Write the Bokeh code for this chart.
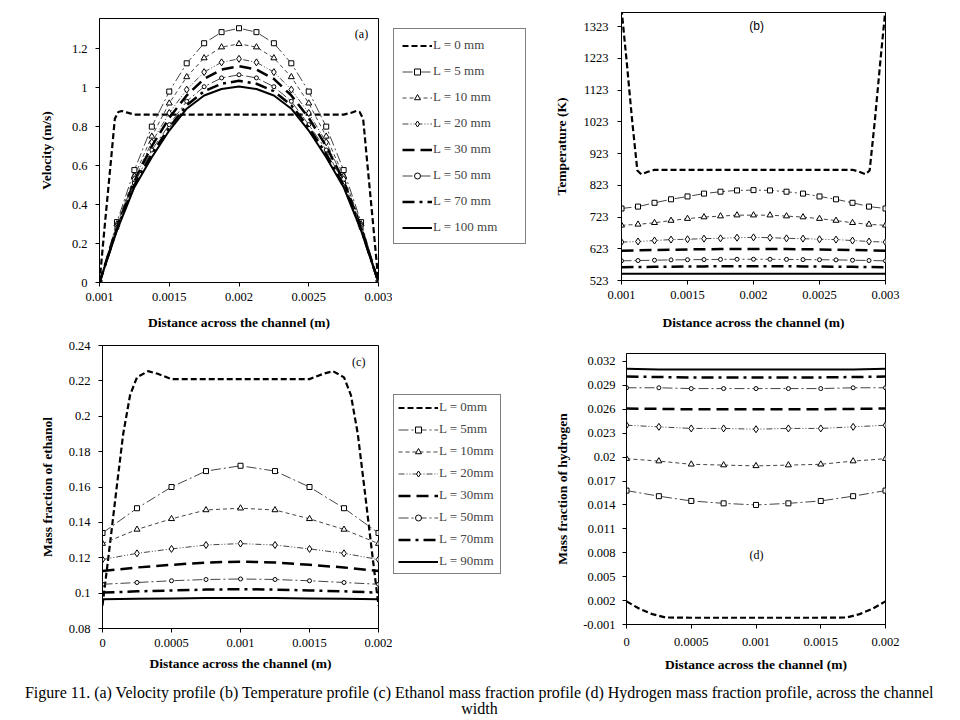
from bokeh.plotting import figure
from bokeh.layouts import column, row
from bokeh.models import Legend, LegendItem, Label, FixedTicker, Range1d
from bokeh.core.properties import value
from bokeh.embed import file_html
from bokeh.resources import INLINE

SERIF = "Liberation Serif"

# ---------------- data : (a) velocity ----------------
a_x = [0.001, 0.001125, 0.00125, 0.001375, 0.0015, 0.001625, 0.00175, 0.001875, 0.002,
       0.002125, 0.00225, 0.002375, 0.0025, 0.002625, 0.00275, 0.002875, 0.003]
a_x0 = [0.001, 0.00104, 0.00108, 0.00111, 0.001135, 0.00116, 0.0012, 0.00125, 0.0015, 0.002,
        0.0025, 0.00275, 0.0028, 0.00284, 0.002865, 0.00289, 0.00292, 0.00296, 0.003]
a_L0 = [0, 0.31, 0.61, 0.84, 0.875, 0.88, 0.872, 0.862, 0.862, 0.862,
        0.862, 0.862, 0.87, 0.88, 0.875, 0.84, 0.61, 0.31, 0]
a_L5 = [0, 0.31, 0.577, 0.80, 0.98, 1.125, 1.228, 1.285, 1.305, 1.285, 1.228, 1.125, 0.98, 0.80, 0.577, 0.31, 0]
a_L10 = [0, 0.30, 0.545, 0.75, 0.92, 1.055, 1.152, 1.208, 1.225, 1.208, 1.152, 1.055, 0.92, 0.75, 0.545, 0.30, 0]
a_L20 = [0, 0.29, 0.53, 0.72, 0.87, 0.99, 1.08, 1.13, 1.148, 1.13, 1.08, 0.99, 0.87, 0.72, 0.53, 0.29, 0]
a_L30 = [0, 0.285, 0.52, 0.70, 0.845, 0.96, 1.045, 1.093, 1.11, 1.093, 1.045, 0.96, 0.845, 0.70, 0.52, 0.285, 0]
a_L50 = [0, 0.28, 0.51, 0.68, 0.81, 0.93, 1.005, 1.05, 1.066, 1.05, 1.005, 0.93, 0.81, 0.68, 0.51, 0.28, 0]
a_L70 = [0, 0.275, 0.50, 0.66, 0.795, 0.91, 0.982, 1.02, 1.035, 1.02, 0.982, 0.91, 0.795, 0.66, 0.50, 0.275, 0]
a_L100 = [0, 0.267, 0.489, 0.643, 0.78, 0.892, 0.96, 0.993, 1.006, 0.993, 0.96, 0.892, 0.78, 0.643, 0.489, 0.267, 0]
a_xticks = [0.001, 0.0015, 0.002, 0.0025, 0.003]
a_xlabels = ["0.001", "0.0015", "0.002", "0.0025", "0.003"]
a_yticks = [0, 0.2, 0.4, 0.6, 0.8, 1.0, 1.2]
a_ylabels = ["0", "0.2", "0.4", "0.6", "0.8", "1", "1.2"]
a_legend = ["L = 0 mm", "L = 5 mm", "L = 10 mm", "L = 20 mm", "L = 30 mm", "L = 50 mm", "L = 70 mm", "L = 100 mm"]

# ---------------- data : (b) temperature ----------------
b_x = a_x
b_x0 = [0.001, 0.00104, 0.00108, 0.00112, 0.00115, 0.0012, 0.00125, 0.0015, 0.002, 0.0025,
        0.00275, 0.0028, 0.00285, 0.00288, 0.00292, 0.00296, 0.003]
b_L0 = [1380, 1210, 1030, 870, 858, 866, 872, 872, 872, 872, 872, 866, 858, 870, 1030, 1210, 1380]
b_L5 = [750, 756, 768, 779, 788, 797, 803, 807, 808, 807, 803, 797, 788, 779, 768, 756, 750]
b_L10 = [697, 700, 705, 712, 718, 723, 726, 729, 729, 729, 726, 723, 718, 712, 705, 700, 697]
b_L20 = [644, 646, 649, 652, 653, 655, 656, 658, 659, 658, 656, 655, 653, 652, 649, 646, 644]
b_L30 = [617, 618, 619, 620, 621, 621.5, 622, 622, 622, 622, 622, 621.5, 621, 620, 619, 618, 617]
b_L50 = [585, 586, 587, 588, 588.5, 589, 589.5, 590, 590, 590, 589.5, 589, 588.5, 588, 587, 586, 585]
b_L70 = [565, 565.5, 566, 566.5, 567, 567.5, 568, 568, 568, 568, 568, 567.5, 567, 566.5, 566, 565.5, 565]
b_L100 = [544, 544, 544, 544, 544.5, 544.5, 544.5, 544.5, 544.5, 544.5, 544.5, 544.5, 544.5, 544, 544, 544, 544]
b_yticks = [523, 623, 723, 823, 923, 1023, 1123, 1223, 1323]
b_ylabels = ["523", "623", "723", "823", "923", "1023", "1123", "1223", "1323"]

# ---------------- data : (c) ethanol ----------------
c_x = [0, 0.00025, 0.0005, 0.00075, 0.001, 0.00125, 0.0015, 0.00175, 0.002]
c_x0 = [0, 0.00005, 0.0001, 0.00015, 0.0002, 0.00025, 0.00033, 0.0004, 0.0005, 0.001, 0.0015,
        0.0016, 0.00167, 0.00175, 0.0018, 0.00185, 0.0019, 0.00195, 0.002]
c_L0 = [0.093, 0.125, 0.158, 0.19, 0.212, 0.222, 0.2255, 0.224, 0.221, 0.221, 0.221,
        0.224, 0.2255, 0.222, 0.212, 0.19, 0.158, 0.125, 0.093]
c_L5 = [0.134, 0.148, 0.160, 0.169, 0.172, 0.169, 0.160, 0.148, 0.134]
c_L10 = [0.128, 0.136, 0.142, 0.147, 0.148, 0.147, 0.142, 0.136, 0.128]
c_L20 = [0.119, 0.1225, 0.125, 0.1272, 0.128, 0.1272, 0.125, 0.1225, 0.119]
c_L30 = [0.1125, 0.1145, 0.116, 0.1173, 0.1178, 0.1173, 0.116, 0.1145, 0.1125]
c_L50 = [0.105, 0.106, 0.107, 0.1077, 0.108, 0.1077, 0.107, 0.106, 0.105]
c_L70 = [0.1003, 0.101, 0.1015, 0.102, 0.1022, 0.102, 0.1015, 0.101, 0.1003]
c_L90 = [0.0965, 0.0968, 0.097, 0.0972, 0.0973, 0.0972, 0.097, 0.0968, 0.0965]
c_xticks = [0, 0.0005, 0.001, 0.0015, 0.002]
c_xlabels = ["0", "0.0005", "0.001", "0.0015", "0.002"]
c_yticks = [0.08, 0.1, 0.12, 0.14, 0.16, 0.18, 0.2, 0.22, 0.24]
c_ylabels = ["0.08", "0.1", "0.12", "0.14", "0.16", "0.18", "0.2", "0.22", "0.24"]
c_legend = ["L = 0mm", "L = 5mm", "L = 10mm", "L = 20mm", "L = 30mm", "L = 50mm", "L = 70mm", "L = 90mm"]

# ---------------- data : (d) hydrogen ----------------
d_x = c_x
d_x0 = [0, 0.0001, 0.0002, 0.0003, 0.0005, 0.001, 0.0015, 0.0017, 0.0018, 0.0019, 0.002]
d_L0 = [0.0019, 0.00097, 0.0003, -0.00012, -0.00015, -0.00015, -0.00015, -0.00012, 0.0003, 0.00097, 0.0019]
d_L5 = [0.0158, 0.0151, 0.0145, 0.0142, 0.0140, 0.0142, 0.0145, 0.0151, 0.0158]
d_L10 = [0.0198, 0.0195, 0.0191, 0.0190, 0.0189, 0.0190, 0.0191, 0.0195, 0.0198]
d_L20 = [0.0240, 0.0238, 0.0236, 0.0236, 0.0235, 0.0236, 0.0236, 0.0238, 0.0240]
d_L30 = [0.0261, 0.02605, 0.0260, 0.0260, 0.0260, 0.0260, 0.0260, 0.02605, 0.0261]
d_L50 = [0.0287, 0.0287, 0.0286, 0.0286, 0.0286, 0.0286, 0.0286, 0.0287, 0.0287]
d_L70 = [0.0301, 0.03005, 0.0300, 0.0300, 0.0300, 0.0300, 0.0300, 0.03005, 0.0301]
d_L90 = [0.0311, 0.0310, 0.0310, 0.0310, 0.0310, 0.0310, 0.0310, 0.0310, 0.0311]
d_yticks = [-0.001, 0.002, 0.005, 0.008, 0.011, 0.014, 0.017, 0.02, 0.023, 0.026, 0.029, 0.032]
d_ylabels = ["-0.001", "0.002", "0.005", "0.008", "0.011", "0.014", "0.017", "0.02", "0.023", "0.026", "0.029", "0.032"]

caption1 = ("Figure 11. (a) Velocity profile (b) Temperature profile (c) Ethanol mass fraction profile "
            "(d) Hydrogen mass fraction profile, across the channel")
caption2 = "width"

# ---------------- styles ----------------
STYLES = [
    dict(dash="6 3", width=2.2, color="black", marker=None, size=0),
    dict(dash="10 3 2 3", width=1, color="#444444", marker="square", size=5),
    dict(dash="4 3", width=1, color="#444444", marker="triangle", size=6),
    dict(dash="6 2 1 2 1 2", width=1, color="#444444", marker="diamond", size=7),
    dict(dash="12 6", width=2.5, color="black", marker=None, size=0),
    dict(dash="10 3 2 3", width=1, color="#444444", marker="circle", size=4),
    dict(dash="12 5 3 5", width=2.5, color="black", marker=None, size=0),
    dict(dash="solid", width=2, color="black", marker=None, size=0),
]

TICK_FS = "12.5px"
TITLE_FS = "13.5px"


def make_fig(w, h, xr, yr, borders, xticks, xlabels, yticks, ylabels, xtitle, ytitle,
             xstand, ystand, xlab_stand=6, ylab_stand=8):
    p = figure(width=w, height=h, x_range=Range1d(*xr), y_range=Range1d(*yr),
               output_backend="svg", toolbar_location=None,
               min_border_left=borders[0], min_border_right=borders[1],
               min_border_top=borders[2], min_border_bottom=borders[3])
    p.xgrid.visible = False
    p.ygrid.visible = False
    p.outline_line_color = "black"
    p.outline_line_width = 1
    p.outline_line_alpha = 1
    p.background_fill_color = "white"
    p.border_fill_color = "white"
    p.xaxis.ticker = FixedTicker(ticks=xticks)
    p.xaxis.major_label_overrides = dict(zip(xticks, xlabels))
    p.yaxis.ticker = FixedTicker(ticks=yticks)
    p.yaxis.major_label_overrides = dict(zip(yticks, ylabels))
    for ax in (p.xaxis[0], p.yaxis[0]):
        ax.minor_tick_line_color = None
        ax.major_tick_in = 0
        ax.major_tick_out = 4
        ax.axis_line_color = "black"
        ax.major_tick_line_color = "black"
        ax.major_label_text_font = SERIF
        ax.major_label_text_font_size = TICK_FS
        ax.major_label_text_color = "black"
        ax.axis_label_text_font = SERIF
        ax.axis_label_text_font_size = TITLE_FS
        ax.axis_label_text_font_style = "bold"
        ax.axis_label_text_color = "black"
    p.xaxis.axis_label = xtitle
    p.yaxis.axis_label = ytitle
    p.xaxis.axis_label_standoff = xstand
    p.yaxis.axis_label_standoff = ystand
    p.xaxis.major_label_standoff = xlab_stand
    p.yaxis.major_label_standoff = ylab_stand
    return p


def draw(p, xs, ys, st):
    rs = [p.line(xs, ys, line_color=st["color"], line_width=st["width"], line_dash=st["dash"])]
    if st["marker"]:
        rs.append(p.scatter(xs, ys, marker=st["marker"], size=st["size"], fill_color="white",
                            line_color="black", line_width=1))
    return rs


def legend_fig(w, h, top, bottom, labels, series, loc, padding, spacing, glyph_w, label_w, item_h):
    # the series are drawn off-range here: only their legend glyphs are seen
    f = figure(width=w, height=h, x_range=Range1d(10, 11), y_range=Range1d(10, 11),
               output_backend="svg", toolbar_location=None, x_axis_location=None,
               y_axis_location=None, min_border_left=0, min_border_right=0,
               min_border_top=top, min_border_bottom=bottom)
    f.xgrid.visible = False
    f.ygrid.visible = False
    f.outline_line_color = None
    f.background_fill_color = "white"
    f.border_fill_color = "white"
    items = []
    for lab, (xs, ys), st in zip(labels, series, STYLES):
        rs = draw(f, xs, ys, st)
        items.append(LegendItem(label=lab, renderers=rs))
    lg = Legend(items=items, location=loc, padding=padding, spacing=spacing, margin=0,
                glyph_width=glyph_w, glyph_height=item_h, label_height=item_h,
                label_width=label_w, label_standoff=1,
                label_text_font=SERIF, label_text_font_size="13px",
                border_line_color="black", border_line_width=1,
                background_fill_color="white", background_fill_alpha=1)
    f.add_layout(lg)
    return f


def panel_label(p, x, y, text, font=SERIF):
    p.add_layout(Label(x=x, y=y, text=text, text_font=font, text_font_size="12px",
                       text_align="center", text_baseline="middle", text_color="black"))


XT = "Distance across the channel (m)"

# (a)
pa = make_fig(392, 338, (0.001, 0.003), (0, 1.355), (99, 14, 18, 56), a_xticks, a_xlabels,
              a_yticks, a_ylabels, XT, "Velocity (m/s)", 11, 15)
a_series = [(a_x0, a_L0), (a_x, a_L5), (a_x, a_L10), (a_x, a_L20), (a_x, a_L30), (a_x, a_L50),
            (a_x, a_L70), (a_x, a_L100)]
for (xs, ys), st in zip(a_series, STYLES):
    draw(pa, xs, ys, st)
panel_label(pa, 0.002878, 1.274, "(a)")
la = legend_fig(148, 338, 18, 56, a_legend, a_series, (1, 38), 8, 10, 30, 84, 15)

# (b)
pb = make_fig(420, 338, (0.001, 0.003), (523, 1368), (81, 75, 12, 58), a_xticks, a_xlabels,
              b_yticks, b_ylabels, XT, "Temperature (K)", 13, 12, 6, 9)
b_series = [(b_x0, b_L0), (b_x, b_L5), (b_x, b_L10), (b_x, b_L20), (b_x, b_L30), (b_x, b_L50),
            (b_x, b_L70), (b_x, b_L100)]
for (xs, ys), st in zip(b_series, STYLES):
    draw(pb, xs, ys, st)
panel_label(pb, 0.002024, 1326, "(b)", "Liberation Sans")

# (c)
pc = make_fig(392, 345, (0, 0.002), (0.08, 0.24), (102, 14, 7, 55), c_xticks, c_xlabels,
              c_yticks, c_ylabels, XT, "Mass fraction of ethanol", 6, 11)
c_series = [(c_x0, c_L0), (c_x, c_L5), (c_x, c_L10), (c_x, c_L20), (c_x, c_L30), (c_x, c_L50),
            (c_x, c_L70), (c_x, c_L90)]
for (xs, ys), st in zip(c_series, STYLES):
    draw(pc, xs, ys, st)
panel_label(pc, 0.001857, 0.2307, "(c)")
lc = legend_fig(148, 345, 7, 55, c_legend, c_series, (1, 54), 4, 6, 40, 57, 15)

# (d)
pd_ = make_fig(420, 345, (0, 0.002), (-0.001, 0.033), (86, 75, 15, 59), c_xticks, c_xlabels,
               d_yticks, d_ylabels, XT, "Mass fraction of hydrogen", 8, 10, 9, 7)
d_series = [(d_x0, d_L0), (d_x, d_L5), (d_x, d_L10), (d_x, d_L20), (d_x, d_L30), (d_x, d_L50),
            (d_x, d_L70), (d_x, d_L90)]
for (xs, ys), st in zip(d_series, STYLES):
    draw(pd_, xs, ys, st)
panel_label(pd_, 0.001003, 0.00777, "(d)")

# caption
cap = figure(width=960, height=35, x_range=Range1d(0, 960), y_range=Range1d(0, 35),
             output_backend="svg", toolbar_location=None, min_border=0,
             x_axis_location=None, y_axis_location=None)
cap.xgrid.visible = False
cap.ygrid.visible = False
cap.outline_line_color = None
cap.text(x=[479, 479], y=[26, 10], text=[caption1, caption2], text_font=value(SERIF),
         text_font_size="16px", text_align="center", text_baseline="middle", text_color="black")

layout = column(row(column(pa), column(la), column(pb)),
                row(column(pc), column(lc), column(pd_)), cap)
open("out.html", "w").write(file_html(layout, INLINE))
